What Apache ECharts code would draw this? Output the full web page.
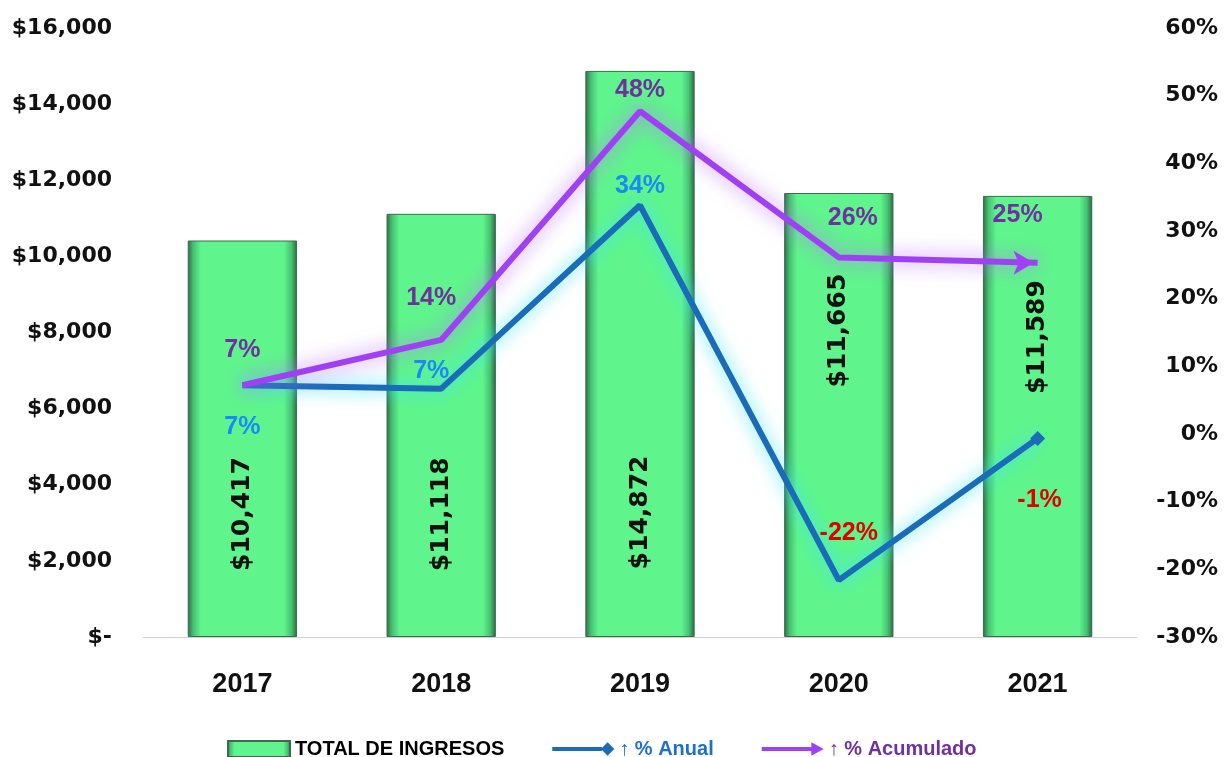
<!DOCTYPE html>
<html>
<head>
<meta charset="utf-8">
<script src="https://cdn.jsdelivr.net/npm/echarts@6/dist/echarts.min.js"></script>
<style>
html,body{margin:0;padding:0;background:#fff;}
#chart{width:1229px;height:757px;}
</style>
</head>
<body>
<div id="chart"></div>
<script>
var categories = ['2017', '2018', '2019', '2020', '2021'];
var totalIngresos = [10417, 11118, 14872, 11665, 11589];
var pctAnual = [7.2, 6.7, 33.8, -21.6, -0.65];
var pctAcumulado = [7.2, 13.9, 47.7, 26.1, 25.3];
var leftTicks = { min: 0, max: 16000, interval: 2000 };
var rightTicks = { min: -30, max: 60, interval: 10 };

var barLabelPos = [['50%', '69%'], ['50%', '71%'], ['50%', '78%'], ['50%', '31%'], ['50%', '32%']];
var anualLabel = [
  { position: 'bottom', distance: 28, offset: [0, 0] },
  { position: 'top', distance: 4, offset: [-10, 0] },
  { position: 'top', distance: 6, offset: [0, 0] },
  { position: 'top', distance: 34, offset: [10, 0] },
  { position: 'bottom', distance: 42, offset: [2, 0] }
];
var acumLabel = [
  { position: 'top', distance: 22, offset: [0, 0] },
  { position: 'top', distance: 28, offset: [-10, 0] },
  { position: 'top', distance: 8, offset: [0, 0] },
  { position: 'top', distance: 26, offset: [14, 0] },
  { position: 'top', distance: 23, offset: [-6, 0] }
];

var fmtPct = function (v) { return Math.round(v) + '%'; };
var fmtMoney = function (v) {
  if (v === 0) return '$-';
  return '$' + Math.round(v).toLocaleString('en-US');
};

var chart = echarts.init(document.getElementById('chart'));

var barGrad = new echarts.graphic.LinearGradient(0, 0, 1, 0, [
  { offset: 0, color: '#2c6e45' },
  { offset: 0.05, color: '#45c070' },
  { offset: 0.12, color: '#5ff58c' },
  { offset: 0.88, color: '#5ff58c' },
  { offset: 0.95, color: '#45c070' },
  { offset: 1, color: '#2a6440' }
]);

var labelFont = 'Liberation Sans';

var option = {
  animation: false,
  backgroundColor: '#ffffff',
  grid: { left: 143, right: 92, top: 28, bottom: 120, containLabel: false },
  legend: {
    left: 222,
    top: 734,
    itemGap: 48,
    itemWidth: 62,
    itemHeight: 16,
    textStyle: { fontFamily: labelFont, fontWeight: 'bold', fontSize: 20 },
    data: [
      { name: 'TOTAL DE INGRESOS', icon: 'rect', textStyle: { color: '#000000' } },
      { name: '\u2191 % Anual', icon: 'path://M0,5 L52,5 L52,9 L0,9 Z M58,0 L65,7 L58,14 L51,7 Z', textStyle: { color: '#1f6fd0' } },
      { name: '\u2191 % Acumulado', icon: 'path://M0,5 L52,5 L52,0 L65,7 L52,14 L52,9 L0,9 Z', textStyle: { color: '#7030a0' } }
    ]
  },
  xAxis: {
    type: 'category',
    data: categories,
    axisTick: { show: false },
    axisLine: { lineStyle: { color: '#d0d0d0', width: 1 } },
    axisLabel: { color: '#111', fontFamily: labelFont, fontWeight: 'bold', fontSize: 27, margin: 34 }
  },
  yAxis: [
    {
      type: 'value',
      min: leftTicks.min, max: leftTicks.max, interval: leftTicks.interval,
      splitLine: { show: false },
      axisLine: { show: false },
      axisTick: { show: false },
      axisLabel: { color: '#111', fontFamily: 'DejaVu Sans', fontWeight: 'bold', fontSize: 22, margin: 31, formatter: fmtMoney }
    },
    {
      type: 'value',
      min: rightTicks.min, max: rightTicks.max, interval: rightTicks.interval,
      splitLine: { show: false },
      axisLine: { show: false },
      axisTick: { show: false },
      axisLabel: { color: '#111', fontFamily: 'DejaVu Sans', fontWeight: 'bold', fontSize: 22, margin: 81, align: 'right', formatter: '{value}%' }
    }
  ],
  series: [
    {
      name: 'TOTAL DE INGRESOS',
      type: 'bar',
      barWidth: '55%',
      yAxisIndex: 0,
      z: 1,
      itemStyle: { color: barGrad, borderColor: '#3f6a50', borderWidth: 1 },
      data: totalIngresos.map(function (v, i) {
        return {
          value: v,
          label: {
            show: true,
            position: barLabelPos[i],
            rotate: 90,
            align: 'center',
            verticalAlign: 'middle',
            formatter: function (p) { return fmtMoney(p.value); },
            color: '#111',
            fontFamily: 'DejaVu Sans',
            fontWeight: 'bold',
            fontSize: 25
          }
        };
      })
    },
    {
      name: '\u2191 % Anual',
      type: 'line',
      yAxisIndex: 1,
      z: 3,
      showSymbol: true,
      showAllSymbol: true,
      lineStyle: { color: '#1a6cb8', width: 6, shadowColor: 'rgba(60,225,255,1)', shadowBlur: 18 },
      itemStyle: { color: '#1a6cb8' },
      data: pctAnual.map(function (v, i) {
        var last = i === pctAnual.length - 1;
        return {
          value: v,
          symbol: last ? 'diamond' : 'circle',
          symbolSize: last ? 15 : 2,
          itemStyle: { color: last ? '#1a6cb8' : 'rgba(0,0,0,0)', borderWidth: 0 },
          label: {
            show: true,
            position: anualLabel[i].position,
            distance: anualLabel[i].distance,
            offset: anualLabel[i].offset,
            formatter: function (p) { return fmtPct(p.value); },
            color: v < 0 ? '#e00000' : '#1a8af5',
            fontFamily: labelFont,
            fontWeight: 'bold',
            fontSize: 25
          }
        };
      })
    },
    {
      name: '\u2191 % Acumulado',
      type: 'line',
      yAxisIndex: 1,
      z: 4,
      showSymbol: true,
      showAllSymbol: true,
      lineStyle: { color: '#a040f5', width: 6, shadowColor: 'rgba(185,110,255,1)', shadowBlur: 20 },
      itemStyle: { color: '#a040f5' },
      data: pctAcumulado.map(function (v, i) {
        var last = i === pctAcumulado.length - 1;
        return {
          value: v,
          symbol: last ? 'arrow' : 'circle',
          symbolSize: last ? [18, 20] : 2,
          symbolRotate: -90,
          symbolOffset: last ? [-4, 0] : [0, 0],
          itemStyle: { color: last ? '#a040f5' : 'rgba(0,0,0,0)', borderWidth: 0 },
          label: {
            show: true,
            position: acumLabel[i].position,
            distance: acumLabel[i].distance,
            offset: acumLabel[i].offset,
            formatter: function (p) { return fmtPct(p.value); },
            color: '#7030a0',
            fontFamily: labelFont,
            fontWeight: 'bold',
            fontSize: 25
          }
        };
      })
    }
  ]
};

chart.setOption(option);
</script>
</body>
</html>
